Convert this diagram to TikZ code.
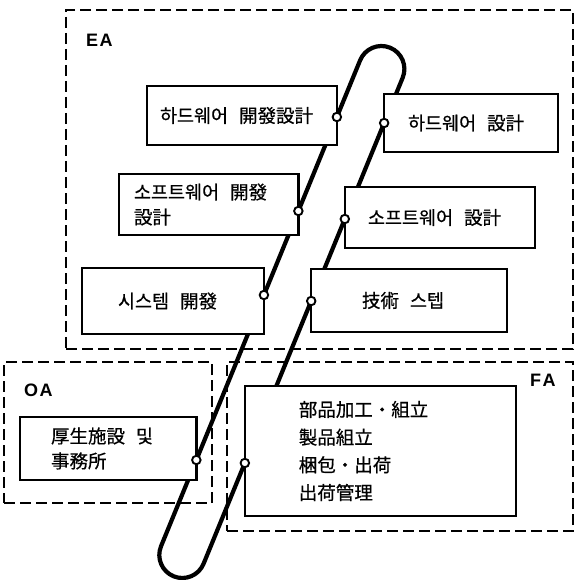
\documentclass[tikz,border=0pt]{standalone}
\usepackage{fontspec}
\newfontfamily\kr[FakeBold=0.6]{Noto Sans CJK KR}
\newfontfamily\labfont{Liberation Sans}
\newcommand\kgap{\hspace{11pt}}
\pgfdeclarelayer{bg}
\pgfsetlayers{bg,main}
\begin{document}
\begin{tikzpicture}[x=1pt,y=-1pt,
  zone/.style={draw, dash pattern=on 11pt off 5pt, line width=2pt, outer sep=0pt, inner sep=0pt, anchor=north west},
  box/.style={draw, fill=white, line width=2.4pt, outer sep=0pt, anchor=north west, inner ysep=0pt, align=left,
              font=\kr\fontsize{18.5}{25}\selectfont},
  dot/.style={circle, draw, fill=white, line width=1.9pt, minimum size=8.5pt, inner sep=0pt},
  zlabel/.style={font=\labfont\bfseries\fontsize{18}{18}\selectfont, anchor=west, inner sep=0pt},
  loopline/.style={line width=4.2pt, line join=round}
]
\useasboundingbox (0,0) rectangle (576,580);

% dashed zones
\node[zone, minimum width=507pt, minimum height=339pt] (ea) at (66,10) {};
\node[zone, minimum width=208pt, minimum height=141pt] (oa) at (4,362) {};
\node[zone, minimum width=346pt, minimum height=169pt] (fa) at (227,362) {};
\node[zlabel] (ealab) at (86,40) {E\kern1.5pt A};
\node[zlabel] (oalab) at (24,390) {O\kern1.5pt A};
\node[zlabel] (falab) at (530,380) {F\kern1.5pt A};

% boxes
\node[box, minimum width=189.87pt, minimum height=59pt, text width=163.9pt, inner xsep=13pt] (hwdev) at (147,86) {하드웨어\kgap 開發設計};
\node[box, minimum width=173.86pt, minimum height=58pt, text width=126pt, inner xsep=23.9pt] (hw) at (384.14,94) {하드웨어\kgap 設計};
\node[box, minimum width=179.36pt, minimum height=61pt, text width=149.4pt, inner xsep=15pt] (swdev) at (119,174) {소프트웨어\kgap 開發\\設計};
\node[box, minimum width=190.19pt, minimum height=61pt, text width=143.8pt, inner xsep=23.2pt] (sw) at (344.81,187) {소프트웨어\kgap 設計};
\node[box, minimum width=181.94pt, minimum height=66pt, text width=109.9pt, inner xsep=36pt] (sys) at (82,268) {시스템\kgap 開發};
\node[box, minimum width=195.79pt, minimum height=63pt, text width=94.2pt, inner xsep=50.8pt] (tech) at (311.21,269) {技術\kgap 스텝};
\node[box, minimum width=176.34pt, minimum height=63pt, text width=114.3pt, inner xsep=31pt] (oabox) at (20,417) {厚生施設\kgap 및\\事務所};
\node[box, minimum width=271.16pt, minimum height=130pt, text width=163.2pt, inner xsep=54pt,
      font=\kr\fontsize{18.5}{27.7}\selectfont] (fabox) at (244.84,386) {部品加工・組立\\製品組立\\梱包・出荷\\出荷管理};

% joints on the loop
\node[dot] (d1) at (336.87,117) {};
\node[dot] (d2) at (298.36,211) {};
\node[dot] (d3) at (263.94,295) {};
\node[dot] (d4) at (196.34,460) {};
\node[dot] (d5) at (384.14,123) {};
\node[dot] (d6) at (344.81,219) {};
\node[dot] (d7) at (311.21,301) {};
\node[dot] (d8) at (244.84,463) {};

\coordinate (tl) at (360.12,60.28);
\coordinate (tr) at (402.68,77.72);
\coordinate (bl) at (161.02,546.28);
\coordinate (br) at (203.58,563.72);

\begin{pgfonlayer}{bg}
\draw[loopline] (tl) -- (d1.center) -- (d2.center) -- (d3.center) -- (d4.center) -- (bl)
  arc[start angle=202.28, end angle=22.28, radius=23]
  -- (d8.center) -- (d7.center) -- (d6.center) -- (d5.center) -- (tr)
  arc[start angle=22.28, end angle=-157.72, radius=23] -- cycle;
\end{pgfonlayer}
\end{tikzpicture}
\end{document}
